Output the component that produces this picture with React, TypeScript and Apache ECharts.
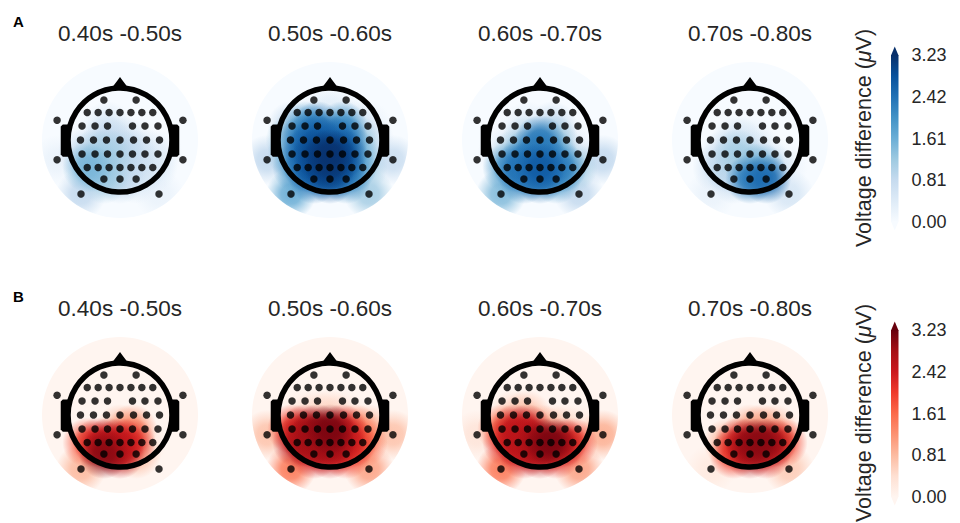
import React, { useEffect, useRef } from "react";
import * as echarts from "echarts";

// Time windows shown in each column, and the panel letters for each row
const TIME_WINDOWS = ["0.40s -0.50s", "0.50s -0.60s", "0.60s -0.70s", "0.70s -0.80s"];
const ROW_LETTERS = ["A", "B"];

// Colour scale range and colorbar ticks (µV)
const V_MAX = 3.23;
const COLORBAR_TICKS = [0, 0.81, 1.61, 2.42, 3.23];

// Electrode montage in head units (head outline radius = 1, nose up)
const ELECTRODE_X = [
  -0.31, 0.31,
  -0.63, -0.42, -0.21, 0, 0.21, 0.42, 0.63,
  -1.21, 1.21,
  -0.73, -0.48, -0.24, 0.24, 0.48, 0.73,
  -0.76, -0.51, -0.26, 0, 0.26, 0.51, 0.76,
  -0.73, -0.48, -0.24, 0, 0.24, 0.48, 0.73,
  -1.21, 1.21,
  -0.63, -0.42, -0.21, 0, 0.21, 0.42, 0.63,
  -0.31, 0, 0.31,
  -0.75, 0.75,
];
const ELECTRODE_Y = [
  0.77, 0.77,
  0.53, 0.53, 0.53, 0.53, 0.53, 0.53, 0.53,
  0.38, 0.38,
  0.27, 0.27, 0.27, 0.27, 0.27, 0.27,
  0, 0, 0, 0, 0, 0, 0,
  -0.27, -0.27, -0.27, -0.27, -0.27, -0.27, -0.27,
  -0.38, -0.38,
  -0.53, -0.53, -0.53, -0.53, -0.53, -0.53, -0.53,
  -0.75, -0.75, -0.75,
  -1.04, -1.04,
];

// Voltage difference per electrode (µV), condition A
const BLUE_040 = [
  0, 0,
  0, 0, 0, 0, 0, 0, 0,
  0, 0,
  0, 0, 0.4, 0, 0, 0,
  0, 0.2, 0.8, 0.6, 0.2, 0, 0,
  0.6, 1.0, 1.1, 0.9, 0.7, 0.4, 0.2,
  0.2, 0,
  1.5, 1.3, 1.0, 0.8, 0.7, 0.5, 0.4,
  1.1, 0.8, 0.4,
  0.8, 0.2,
];
const BLUE_050 = [
  0, 0,
  0, 0, 0.2, 0.3, 0.2, 0, 0,
  0, 0,
  0.8, 1.8, 2.3, 2.0, 0.6, 0.2,
  1.3, 2.4, 2.7, 2.6, 2.4, 1.2, 0.4,
  1.4, 2.6, 3.0, 3.2, 2.9, 1.6, 0.5,
  0.8, 0.7,
  2.0, 2.6, 2.9, 3.1, 2.7, 1.9, 1.1,
  2.4, 2.7, 2.1,
  1.6, 1.1,
];
const BLUE_060 = [
  0, 0,
  0, 0, 0, 0, 0, 0, 0,
  0, 0,
  0, 0, 0.3, 0.7, 0, 0,
  0, 0.2, 1.0, 2.3, 1.2, 0.2, 0,
  0.3, 1.1, 2.1, 2.3, 1.8, 0.6, 0.2,
  0, 0.8,
  1.8, 2.4, 2.4, 2.7, 2.4, 2.1, 1.2,
  2.2, 2.4, 1.8,
  1.4, 0.8,
];
const BLUE_070 = [
  0, 0,
  0, 0, 0, 0, 0, 0, 0,
  0, 0,
  0, 0, 0, 0, 0, 0,
  0, 0, 0.5, 0.3, 0, 0, 0,
  0, 0.6, 1.1, 0.6, 0.3, 0, 0,
  0, 0,
  0.6, 0.9, 0.9, 1.2, 1.5, 0.6, 0.2,
  0.7, 2.3, 2.5,
  0.2, 0.5,
];

// Voltage difference per electrode (µV), condition B
const RED_040 = [
  0, 0,
  0, 0, 0, 0, 0, 0, 0,
  0, 0,
  0, 0, 0, 0, 0, 0,
  0, 0, 0, 0, 0, 0, 0,
  0, 0, 0, 0.8, 1.2, 0, 0,
  0, 0,
  1.8, 2.4, 2.6, 2.4, 2.2, 0.3, 0,
  3.0, 2.6, 0.8,
  0.8, 0,
];
const RED_050 = [
  0, 0,
  0, 0, 0, 0, 0, 0, 0,
  0, 0,
  0, 0, 0, 0, 0, 0,
  0, 0.2, 0.4, 0.5, 0.2, 0, 0,
  2.0, 2.6, 2.9, 3.1, 2.4, 1.4, 0.8,
  0.7, 0.7,
  2.6, 2.8, 2.8, 2.9, 2.6, 2.2, 1.6,
  2.4, 2.5, 2.0,
  1.4, 1.0,
];
const RED_060 = [
  0, 0,
  0, 0, 0, 0, 0, 0, 0,
  0, 0,
  0, 0, 0, 0, 0, 0,
  0, 0.5, 0.7, 0, 0, 0, 0,
  1.6, 2.5, 2.5, 1.0, 0.6, 0.4, 0.2,
  0.3, 0.9,
  2.2, 2.6, 2.6, 2.9, 3.1, 2.6, 2.0,
  2.4, 2.6, 2.2,
  1.4, 1.0,
];
const RED_070 = [
  0, 0,
  0, 0, 0, 0, 0, 0, 0,
  0, 0,
  0, 0, 0, 0, 0, 0,
  0, 0, 0, 0, 0, 0, 0,
  0, 0, 0, 0.9, 1.0, 0.7, 0,
  0, 0,
  0, 0.9, 2.3, 2.9, 3.0, 2.7, 1.9,
  2.0, 2.7, 2.3,
  0.2, 0.6,
];

const PANEL_VALUES = [
  [BLUE_040, BLUE_050, BLUE_060, BLUE_070],
  [RED_040, RED_050, RED_060, RED_070],
];

// Sequential colormaps (light to dark)
const BLUES = ["#f7fbff", "#deebf7", "#c6dbef", "#9ecae1", "#6baed6", "#4292c6", "#2171b5", "#08519c", "#08306b"];
const REDS = ["#fff5f0", "#fee0d2", "#fcbba1", "#fc9272", "#fb6a4a", "#ef3b2c", "#cb181d", "#a50f15", "#67000d"];
const COLORMAPS = [BLUES, REDS];

// Layout
const PANEL_CX = [120, 330, 540, 750];
const PANEL_CY = [140, 415];
const UNIT_PX = 52;
const HALF_SPAN = 1.6;
const DISC_R = 1.5;
const HEAD_R = 1.0;
const BLOB_R = 0.48;
const FONT = "'Liberation Sans', Arial, Helvetica, sans-serif";
const TEXT_COLOR = "#262626";

function buildOption() {
  const grid: any[] = [];
  const xAxis: any[] = [];
  const yAxis: any[] = [];
  const series: any[] = [];
  const graphic: any[] = [];
  const visualMap: any[] = [];
  const size = HALF_SPAN * 2 * UNIT_PX;

  PANEL_VALUES.forEach((rowValues, r) => {
    const cmap = COLORMAPS[r];
    const fieldSeries: number[] = [];

    rowValues.forEach((vals, c) => {
      const gi = grid.length;
      grid.push({
        left: PANEL_CX[c] - size / 2,
        top: PANEL_CY[r] - size / 2,
        width: size,
        height: size,
      });
      xAxis.push({ type: "value", gridIndex: gi, min: -HALF_SPAN, max: HALF_SPAN, show: false });
      yAxis.push({ type: "value", gridIndex: gi, min: -HALF_SPAN, max: HALF_SPAN, show: false });

      // scalp disc
      series.push({
        type: "custom",
        xAxisIndex: gi,
        yAxisIndex: gi,
        z: 1,
        silent: true,
        data: [[0, 0]],
        renderItem: (_p: any, api: any) => {
          const o = api.coord([0, 0]);
          const u = api.size([1, 0])[0];
          return {
            type: "circle",
            shape: { cx: o[0], cy: o[1], r: DISC_R * u },
            style: { fill: cmap[0] },
          };
        },
      });

      // smoothed voltage field
      const fieldData = ELECTRODE_X.map((x, i) => [x, ELECTRODE_Y[i], vals[i]])
        .filter((d) => d[2] > 0)
        .sort((a, b) => a[2] - b[2]);
      fieldSeries.push(series.length);
      series.push({
        type: "custom",
        xAxisIndex: gi,
        yAxisIndex: gi,
        z: 2,
        silent: true,
        data: fieldData,
        renderItem: (_p: any, api: any) => {
          const o = api.coord([0, 0]);
          const p = api.coord([api.value(0), api.value(1)]);
          const u = api.size([1, 0])[0];
          const color = api.visual("color");
          const fade = (a: number) => echarts.color.modifyAlpha(color, a);
          return {
            type: "circle",
            shape: { cx: p[0], cy: p[1], r: BLOB_R * u },
            style: {
              fill: new echarts.graphic.RadialGradient(0.5, 0.5, 0.5, [
                { offset: 0, color: fade(1) },
                { offset: 0.4, color: fade(0.85) },
                { offset: 0.7, color: fade(0.4) },
                { offset: 1, color: fade(0) },
              ]),
            },
            clipPath: { type: "circle", shape: { cx: o[0], cy: o[1], r: DISC_R * u } },
          };
        },
      });

      // head outline: circle, nose and ears
      series.push({
        type: "custom",
        xAxisIndex: gi,
        yAxisIndex: gi,
        z: 3,
        silent: true,
        data: [[0, 0]],
        renderItem: (_p: any, api: any) => {
          const o = api.coord([0, 0]);
          const u = api.size([1, 0])[0];
          const pt = (x: number, y: number) => [o[0] + x * u, o[1] - y * u];
          const ear = (s: number) => ({
            type: "polygon",
            shape: {
              points: [
                pt(s * 0.96, 0.3), pt(s * 1.1, 0.3), pt(s * 1.14, 0.26),
                pt(s * 1.14, -0.28), pt(s * 1.1, -0.32), pt(s * 0.96, -0.32),
              ],
            },
            style: { fill: "#000" },
          });
          return {
            type: "group",
            children: [
              {
                type: "circle",
                shape: { cx: o[0], cy: o[1], r: HEAD_R * u },
                style: { fill: "none", stroke: "#000", lineWidth: 5.5 },
              },
              {
                type: "polygon",
                shape: {
                  points: [pt(-0.17, 0.985), pt(-0.06, 1.13), pt(0, 1.21), pt(0.06, 1.13), pt(0.17, 0.985)],
                },
                style: { fill: "#000" },
              },
              ear(-1),
              ear(1),
            ],
          };
        },
      });

      // electrodes
      series.push({
        type: "scatter",
        xAxisIndex: gi,
        yAxisIndex: gi,
        z: 4,
        silent: true,
        symbol: "circle",
        symbolSize: 7.5,
        itemStyle: { color: "#000" },
        data: ELECTRODE_X.map((x, i) => [x, ELECTRODE_Y[i]]),
      });

      graphic.push({
        type: "text",
        x: PANEL_CX[c],
        y: PANEL_CY[r] - 107,
        style: {
          text: TIME_WINDOWS[c],
          fill: TEXT_COLOR,
          fontSize: 22.5,
          fontFamily: FONT,
          align: "center",
          verticalAlign: "middle",
          textAlign: "center",
          textVerticalAlign: "middle",
        },
      });
    });

    visualMap.push({
      type: "continuous",
      show: false,
      seriesIndex: fieldSeries,
      dimension: 2,
      min: 0,
      max: V_MAX,
      inRange: { color: cmap },
    });

    // colorbar
    const gi = grid.length;
    grid.push({ left: 891, top: PANEL_CY[r] - 85, width: 7.5, height: 167 });
    xAxis.push({ type: "value", gridIndex: gi, min: 0, max: 1, show: false });
    yAxis.push({
      type: "value",
      gridIndex: gi,
      position: "right",
      min: 0,
      max: V_MAX,
      interval: V_MAX / 4,
      axisLine: { show: false },
      axisTick: { show: false },
      splitLine: { show: false },
      axisLabel: {
        margin: 13,
        fontSize: 18,
        fontFamily: FONT,
        color: TEXT_COLOR,
        formatter: (v: number) => {
          const i = Math.round(v / (V_MAX / 4));
          return COLORBAR_TICKS[i].toFixed(2);
        },
      },
    });
    series.push({
      type: "custom",
      xAxisIndex: gi,
      yAxisIndex: gi,
      silent: true,
      data: [[0, 0]],
      renderItem: (_p: any, api: any) => {
        const top = api.coord([0, V_MAX]);
        const bot = api.coord([1, 0]);
        const x0 = top[0];
        const x1 = bot[0];
        const y0 = top[1];
        const y1 = bot[1];
        const tri = 8.5;
        const n = cmap.length;
        return {
          type: "group",
          children: [
            {
              type: "rect",
              shape: { x: x0, y: y0, width: x1 - x0, height: y1 - y0 },
              style: {
                fill: new echarts.graphic.LinearGradient(
                  0, 1, 0, 0,
                  cmap.map((col, i) => ({ offset: i / (n - 1), color: col }))
                ),
              },
            },
            {
              type: "polygon",
              shape: { points: [[x0, y0 + 0.5], [x1, y0 + 0.5], [(x0 + x1) / 2, y0 - tri]] },
              style: { fill: cmap[n - 1] },
            },
            {
              type: "polygon",
              shape: { points: [[x0, y1 - 0.5], [x1, y1 - 0.5], [(x0 + x1) / 2, y1 + tri]] },
              style: { fill: cmap[0] },
            },
          ],
        };
      },
    });

    graphic.push({
      type: "text",
      x: 864,
      y: PANEL_CY[r] - 2,
      rotation: Math.PI / 2,
      style: {
        text: "Voltage difference ({mu|μ}V)",
        fill: TEXT_COLOR,
        fontSize: 21.5,
        fontFamily: FONT,
        align: "center",
        verticalAlign: "middle",
        textAlign: "center",
        textVerticalAlign: "middle",
        rich: {
          mu: { fontStyle: "italic", fontSize: 21.5, fontFamily: FONT, fill: TEXT_COLOR },
        },
      },
    });

    graphic.push({
      type: "text",
      x: 13,
      y: PANEL_CY[r] - 119,
      style: {
        text: ROW_LETTERS[r],
        fill: "#000",
        fontSize: 15,
        fontWeight: "bold",
        fontFamily: FONT,
        align: "left",
        verticalAlign: "middle",
        textAlign: "left",
        textVerticalAlign: "middle",
      },
    });
  });

  return {
    animation: false,
    backgroundColor: "#ffffff",
    grid,
    xAxis,
    yAxis,
    visualMap,
    series,
    graphic,
  };
}

export default function App() {
  const ref = useRef<HTMLDivElement>(null);
  useEffect(() => {
    if (!ref.current) return;
    const chart = echarts.init(ref.current, undefined, { renderer: "svg" });
    chart.setOption(buildOption());
    return () => chart.dispose();
  }, []);
  return (
    <div
      ref={ref}
      style={{ position: "fixed", left: 0, top: 0, width: 960, height: 523, background: "#fff" }}
    />
  );
}
